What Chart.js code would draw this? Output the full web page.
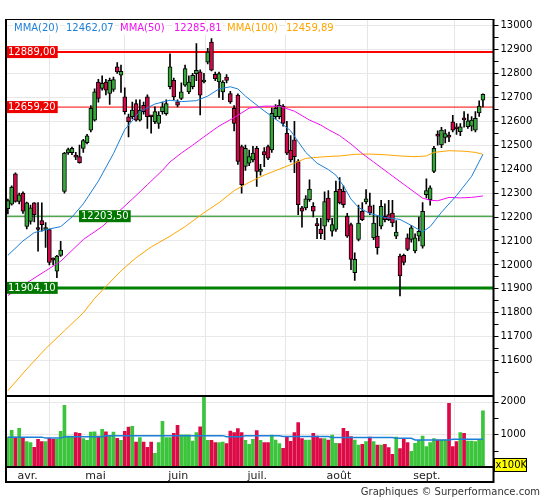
<!DOCTYPE html>
<html>
<head>
<meta charset="utf-8">
<title>DAX - graphique</title>
<script src="https://cdn.jsdelivr.net/npm/chart.js@4.4.1/dist/chart.umd.min.js"></script>
<style>
  html, body { margin: 0; padding: 0; background: #fff; }
  #box { position: relative; width: 545px; height: 500px; }
</style>
</head>
<body>
<div id="box"><canvas id="chart" width="545" height="500"></canvas></div>
<script>
// values, one entry per trading day
const opens = [
  12235,12254,12380,12265,12300,12161,12182,12259,12155,12185,
  12148,12148,12024,11974,12040,12307,12468,12469,12455,12452,
  12487,12511,12563,12605,12764,12737,12764,12716,12733,12827,
  12792,12702,12619,12619,12674,12605,12667,12702,12622,12598,
  12591,12640,12632,12744,12771,12681,12695,12751,12723,12744,
  12799,12806,12764,12847,12931,12796,12764,12723,12785,12716,
  12654,12709,12494,12411,12425,12439,12487,12390,12473,12494,
  12480,12619,12619,12663,12550,12480,12522,12432,12238,12238,
  12272,12245,12171,12150,12162,12279,12141,12148,12317,12307,
  12203,12168,11968,12106,12224,12263,12247,12113,12120,12162,
  12203,12210,12217,12120,12037,12040,12113,12106,12058,12120,
  12078,12293,12272,12390,12540,12501,12533,12538,12598,12572,
  12556,12610,12577,12580,12563,12635,12688
];
const highs = [
  12275,12330,12385,12300,12305,12262,12250,12260,12260,12259,
  12177,12150,12030,12040,12099,12470,12488,12492,12470,12500,
  12525,12545,12665,12735,12775,12790,12775,12780,12785,12845,
  12835,12740,12630,12680,12690,12690,12680,12710,12625,12660,
  12640,12680,12690,12882,12780,12690,12760,12835,12790,12800,
  12924,12815,12800,12905,12945,12805,12805,12770,12795,12725,
  12665,12715,12500,12500,12480,12495,12495,12420,12490,12500,
  12655,12670,12690,12670,12600,12540,12600,12440,12245,12290,
  12355,12260,12195,12195,12305,12310,12195,12350,12365,12330,
  12215,12175,12050,12250,12260,12315,12300,12250,12205,12270,
  12255,12270,12270,12185,12045,12045,12130,12165,12130,12200,
  12260,12360,12330,12495,12560,12575,12565,12555,12625,12590,
  12590,12640,12630,12620,12640,12685,12715
];
const lows = [
  12213,12250,12262,12255,12215,12150,12170,12180,12057,12141,
  12073,12000,12000,11947,12036,12300,12462,12460,12440,12425,
  12470,12505,12555,12600,12680,12730,12710,12670,12725,12800,
  12720,12630,12535,12610,12600,12600,12630,12570,12550,12590,
  12570,12630,12625,12735,12690,12660,12690,12745,12715,12735,
  12770,12626,12760,12840,12810,12770,12700,12690,12760,12675,
  12560,12420,12300,12395,12415,12430,12328,12375,12410,12440,
  12470,12610,12610,12580,12460,12430,12385,12210,12158,12230,
  12265,12200,12110,12110,12105,12180,12120,12140,12255,12240,
  12115,11980,11935,12100,12185,12255,12210,12105,12045,12150,
  12180,12185,12160,12110,11870,12000,12060,12095,12050,12100,
  12070,12280,12250,12385,12500,12490,12510,12515,12555,12545,
  12540,12575,12570,12560,12555,12620,12660
];
const closes = [
  12269,12325,12265,12293,12224,12259,12238,12210,12148,12168,
  12155,12010,12020,12037,12062,12467,12482,12487,12450,12427,
  12519,12539,12654,12723,12695,12758,12730,12771,12774,12806,
  12809,12640,12598,12647,12605,12647,12640,12619,12619,12640,
  12626,12660,12674,12827,12702,12667,12723,12820,12764,12792,
  12813,12709,12771,12889,12813,12778,12799,12764,12771,12681,
  12591,12432,12335,12487,12452,12467,12390,12400,12459,12446,
  12633,12654,12667,12591,12467,12439,12452,12252,12224,12276,
  12317,12224,12164,12130,12265,12189,12168,12307,12259,12252,
  12120,12023,12023,12175,12189,12276,12217,12175,12072,12245,
  12189,12189,12175,12137,11954,12010,12065,12155,12113,12140,
  12224,12310,12322,12487,12538,12563,12549,12534,12563,12568,
  12577,12606,12602,12605,12612,12663,12712
];
// volume in units of 100K
const volumes = [
  918,1122,918,1183,877,775,745,602,847,775,
  775,877,847,847,1091,1887,949,949,1051,1030,
  867,816,1071,1081,949,1153,1081,969,1071,877,
  816,1091,1224,1244,765,898,765,602,765,418,
  745,1397,898,898,1030,1275,989,989,989,796,
  1051,1234,2193,816,816,745,745,765,714,1102,
  1051,1173,1051,816,694,847,1112,816,745,745,
  979,826,714,571,908,785,1051,1357,867,826,
  826,1030,949,867,867,826,979,724,714,1183,
  1091,928,826,673,694,775,918,775,673,673,
  694,592,388,918,561,847,745,479,724,816,
  949,622,745,867,826,826,826,1948,622,775,
  1051,1030,796,796,775,847,1724
];

// moving averages as [day index, value] pairs
const mma20 = [[0,12040],[4,12100],[7,12135],[11,12150],[14,12160],[17,12200],[20,12255],[24,12350],[28,12465],[31,12565],[35,12640],[39,12672],[43,12688],[46,12682],[50,12686],[53,12705],[56,12735],[59,12744],[61,12735],[63,12705],[67,12655],[70,12620],[72,12598],[75,12560],[77,12515],[79,12470],[82,12425],[85,12398],[87,12375],[89,12330],[91,12275],[93,12240],[96,12215],[100,12198],[104,12190],[107,12165],[110,12138],[112,12160],[115,12220],[119,12290],[123,12370],[126,12462]];
const mma50 = [[0,11872],[5,11925],[10,11975],[14,12015],[20,12106],[25,12160],[29,12217],[33,12275],[37,12335],[41,12395],[43,12430],[46,12467],[49,12500],[52,12535],[56,12580],[60,12615],[64,12655],[68,12663],[72,12663],[76,12642],[80,12605],[83,12584],[85,12565],[88,12540],[91,12505],[94,12465],[97,12430],[101,12383],[106,12325],[110,12279],[112,12270],[114,12268],[117,12282],[120,12280],[123,12282],[126,12288]];
const mma100 = [[0,11475],[5,11565],[10,11650],[15,11725],[20,11800],[23,11860],[26,11910],[30,11975],[34,12030],[38,12075],[43,12120],[47,12160],[52,12218],[56,12260],[60,12310],[64,12345],[68,12375],[72,12400],[76,12425],[79,12445],[84,12452],[88,12455],[92,12462],[96,12463],[100,12460],[104,12455],[108,12452],[111,12455],[113,12470],[117,12477],[121,12475],[124,12470],[126,12462]];
const volAvg = [[0,915],[9,915],[10,885],[14,885],[15,925],[25,930],[26,960],[57,960],[58,925],[62,925],[63,960],[72,960],[73,935],[85,935],[86,900],[102,900],[103,880],[107,880],[108,830],[117,830],[118,850],[126,850]];

const monthStart = [2, 20, 42, 63, 84, 107];
const monthNames = ['avr.', 'mai', 'juin', 'juil.', 'août', 'sept.'];
const priceLabels = [11600,11700,11800,11900,12000,12100,12200,12300,12400,12500,12600,12700,12800,12900,13000];
const volLabels = [1000, 2000];
const levelValues = [12889.00, 12659.20, 12203.50, 11904.10];
const levelTexts = ['12889,00', '12659,20', '12203,50', '11904,10'];
const legendTexts = ['MMA(20)', '12462,07', 'MMA(50)', '12285,81', 'MMA(100)', '12459,89'];

// styles
const upBody = '#36a83a', downBody = '#d0084a';
const upVol = '#3cc43c', downVol = '#dc0a46';
const blue = '#1c7fd8', magenta = '#f010f0', orange = '#ffa500';
const levelColors = ['#ee0000', '#ee0000', '#007800', '#007800'];
const levelLineColors = ['#ff0000', '#ff0000', '#008000', '#008000'];
const levelWidths = [2, 1, 1, 3];
const levelLabelX = [6, 6, 79, 6];
const legendColors = [blue, blue, magenta, magenta, orange, orange];
const legendX = [14, 66, 120, 174, 227, 286];
const priceFloor = 11454;

Chart.defaults.font.family = '"DejaVu Sans", Verdana, sans-serif';
Chart.defaults.font.size = 10;

const up = opens.map((o, i) => closes[i] >= o);
const pts = arr => arr.map(p => ({ x: p[0], y: p[1] }));

const overlay = {
  id: 'overlay',
  beforeDatasetsDraw(chart) {
    const { ctx, chartArea: a, scales } = chart;
    const y = scales.y, yv = scales.yv;
    ctx.save();
    ctx.strokeStyle = '#e8e8e8';
    ctx.lineWidth = 1;
    volLabels.forEach(v => {
      const py = Math.round(yv.getPixelForValue(v)) + 0.5;
      ctx.beginPath(); ctx.moveTo(a.left, py); ctx.lineTo(a.right, py); ctx.stroke();
    });
    levelValues.forEach((v, i) => {
      const py = y.getPixelForValue(v);
      ctx.strokeStyle = levelLineColors[i];
      ctx.lineWidth = levelWidths[i];
      ctx.beginPath(); ctx.moveTo(a.left, py); ctx.lineTo(a.right, py); ctx.stroke();
    });
    ctx.restore();
  },
  afterDatasetsDraw(chart) {
    const { ctx, chartArea: a, scales } = chart;
    const y = scales.y;
    ctx.save();
    ctx.font = '10px "DejaVu Sans"';
    ctx.textBaseline = 'middle';
    levelValues.forEach((v, i) => {
      const py = y.getPixelForValue(v);
      const w = ctx.measureText(levelTexts[i]).width + 4;
      ctx.fillStyle = levelColors[i];
      ctx.fillRect(levelLabelX[i], py - 6, w, 12);
      ctx.fillStyle = '#fff';
      ctx.fillText(levelTexts[i], levelLabelX[i] + 2, py + 0.5);
    });
    legendTexts.forEach((t, i) => {
      const w = ctx.measureText(t).width;
      ctx.fillStyle = '#fff';
      ctx.fillRect(legendX[i] - 1, a.top + 3, w + 2, 12);
      ctx.fillStyle = legendColors[i];
      ctx.fillText(t, legendX[i], a.top + 9);
    });
    ctx.restore();
  },
  afterDraw(chart) {
    const { ctx, chartArea: a, scales } = chart;
    const y = scales.y, yv = scales.yv;
    const split = Math.round(y.getPixelForValue(priceFloor));
    ctx.save();
    ctx.strokeStyle = '#000';
    ctx.lineWidth = 1;
    ctx.beginPath(); ctx.moveTo(a.left - 1, Math.round(a.top) - 0.5); ctx.lineTo(a.right + 1, Math.round(a.top) - 0.5); ctx.stroke();
    ctx.lineWidth = 2;
    ctx.beginPath();
    ctx.moveTo(a.left, a.top); ctx.lineTo(a.left, 482);
    ctx.moveTo(a.right, a.top); ctx.lineTo(a.right, 482);
    ctx.moveTo(a.left - 1, 482); ctx.lineTo(a.right + 1, 482);
    ctx.moveTo(a.left, split); ctx.lineTo(a.right, split);
    ctx.moveTo(a.left, Math.round(a.bottom)); ctx.lineTo(a.right, Math.round(a.bottom));
    ctx.stroke();
    // volume axis
    ctx.lineWidth = 1;
    ctx.beginPath();
    [500, 1000, 1500, 2000].forEach(v => {
      const py = Math.round(yv.getPixelForValue(v)) + 0.5;
      ctx.moveTo(a.right, py); ctx.lineTo(a.right + 5, py);
    });
    ctx.stroke();
    ctx.font = '10px "DejaVu Sans"';
    ctx.textBaseline = 'middle';
    ctx.fillStyle = '#000';
    volLabels.forEach(v => ctx.fillText(String(v), a.right + 7, yv.getPixelForValue(v)));
    ctx.fillStyle = '#ffff00';
    ctx.fillRect(494, 458, 33, 14);
    ctx.strokeRect(494.5, 458.5, 32, 13);
    ctx.fillStyle = '#000';
    ctx.fillText('x100K', 495.5, 465.5);
    ctx.fillStyle = '#333';
    ctx.textAlign = 'right';
    ctx.fillText('Graphiques \u00a9 Surperformance.com', 540, 492);
    ctx.restore();
  }
};

new Chart(document.getElementById('chart'), {
  type: 'bar',
  data: {
    datasets: [
      { type: 'line', label: 'MMA(20)', data: pts(mma20), borderColor: blue, borderWidth: 1, pointRadius: 0, yAxisID: 'y', order: 1 },
      { type: 'line', label: 'MMA(50)', data: pts(mma50), borderColor: magenta, borderWidth: 1, pointRadius: 0, yAxisID: 'y', order: 1 },
      { type: 'line', label: 'MMA(100)', data: pts(mma100), borderColor: orange, borderWidth: 1, pointRadius: 0, yAxisID: 'y', order: 1 },
      { type: 'line', label: 'Volume moyen', data: pts(volAvg), borderColor: blue, borderWidth: 1.5, pointRadius: 0, yAxisID: 'yv', order: 1 },
      { label: 'Corps', data: opens.map((o, i) => ({ x: i, y: [o, closes[i]] })),
        backgroundColor: up.map(u => u ? upBody : downBody), borderColor: '#000', borderWidth: 1,
        borderSkipped: false, barThickness: 4, minBarLength: 2, grouped: false, yAxisID: 'y', order: 2 },
      { label: 'Mèches', data: lows.map((l, i) => ({ x: i, y: [l, highs[i]] })),
        backgroundColor: '#000', barThickness: 1, grouped: false, yAxisID: 'y', order: 3 },
      { label: 'Volume', data: volumes.map((v, i) => ({ x: i, y: v })),
        backgroundColor: up.map(u => u ? upVol : downVol), barThickness: 3, grouped: false, yAxisID: 'yv', order: 4 }
    ]
  },
  options: {
    responsive: false,
    animation: false,
    devicePixelRatio: 1,
    layout: { padding: { left: 6, top: 19.5, right: 0, bottom: 18 } },
    plugins: { legend: { display: false }, tooltip: { enabled: false } },
    scales: {
      x: {
        type: 'linear', min: -0.5, max: 128.8, offset: false,
        afterBuildTicks: s => { s.ticks = monthStart.map(v => ({ value: v })); },
        afterFit: s => { s.height = 15; s.paddingLeft = 0; s.paddingRight = 0; },
        grid: { color: '#e6e6e6', drawTicks: false },
        border: { display: false },
        ticks: { align: 'start', labelOffset: 2, padding: 3, autoSkip: false, maxRotation: 0,
                 font: { size: 11 }, color: '#222', callback: (v, i) => monthNames[i] }
      },
      y: {
        position: 'right', min: 11156, max: 13025,
        afterBuildTicks: s => {
          const minors = priceLabels.map(v => v - 50);
          s.ticks = priceLabels.concat(minors).sort((p, q) => p - q).map(v => ({ value: v }));
        },
        afterFit: s => { s.width = 51.5; s.paddingTop = 0; s.paddingBottom = 0; },
        grid: { color: c => (c.tick && priceLabels.includes(c.tick.value)) ? '#e8e8e8' : 'rgba(0,0,0,0)',
                tickColor: '#000', tickLength: 5 },
        border: { display: false },
        ticks: { padding: 2, autoSkip: false, color: '#000', font: { size: 10 },
                 callback: v => priceLabels.includes(v) ? String(v) : '' }
      },
      yv: { display: false, min: 0, max: 13706 }
    }
  },
  plugins: [overlay]
});
</script>
</body>
</html>
